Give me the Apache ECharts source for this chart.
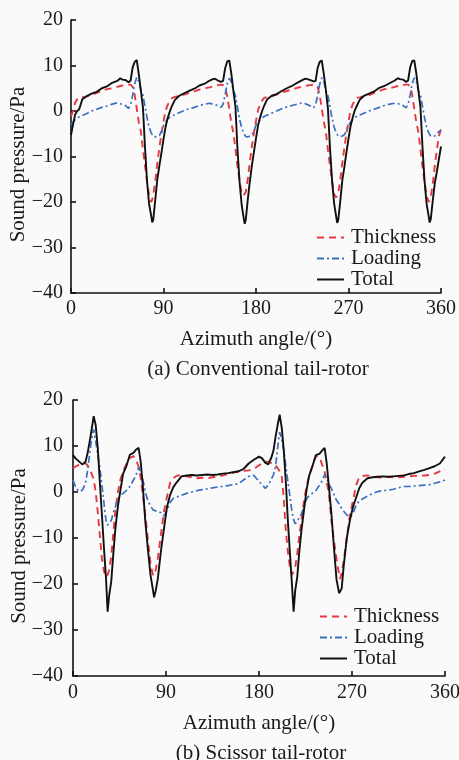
<!DOCTYPE html>
<html>
<head>
<meta charset="utf-8">
<script src="https://cdn.jsdelivr.net/npm/echarts@6/dist/echarts.min.js"></script>
<style>
html,body{margin:0;padding:0;background:#fafafa;}
#chart{width:459px;height:760px;}
</style>
</head>
<body>
<div id="chart"></div>
<script>
// ---------- (a) Conventional tail-rotor ----------
var anglesA = [
 0,2,4,6,8,11,15,20,25,30,35,40,45,48,50,53,56,58,60,62,64,66,68,70,72,74,76,78,79,80,82,84,86,88,
 90,92,94,96,98,101,105,110,115,120,125,130,135,138,140,143,146,148,150,152,154,156,158,160,162,164,166,168,169,170,172,174,176,178,
 180,182,184,186,188,191,195,200,205,210,215,220,225,228,230,233,236,238,240,242,244,246,248,250,252,254,256,258,259,260,262,264,266,268,
 270,272,274,276,278,281,285,290,295,300,305,310,315,318,320,323,326,328,330,332,334,336,338,340,342,344,346,348,349,350,352,354,356,358,
 360];
var thicknessA = [
 -1.2,0,1.8,2.6,3.0,3.0,3.2,3.5,4.0,4.4,4.8,5.0,5.3,5.5,5.6,5.7,5.8,5.8,5.3,3.5,0.5,-2.5,-4.5,-8.5,-12,-15.5,-18.5,-20,-19.5,-18.5,-15.5,-11.5,-8,-5,
 -2.3,0,1.3,2.2,2.8,3.1,3.3,3.6,4.0,4.3,4.7,5.0,5.2,5.4,5.5,5.7,5.8,5.7,5.2,3.3,0.4,-2.6,-4.8,-8.4,-12.2,-15.4,-18,-18.6,-18.5,-17.8,-15,-11.2,-7.8,-4.8,
 -2.2,0.2,1.4,2.3,2.9,3.1,3.3,3.6,4.1,4.4,4.7,5.1,5.3,5.5,5.6,5.7,5.8,5.8,5.3,3.4,0.6,-2.4,-4.6,-8.6,-12,-15.5,-18.3,-19,-18.8,-18,-15.2,-11.4,-8,-5,
 -2.3,0.1,1.4,2.3,2.9,3.0,3.3,3.5,4.0,4.4,4.8,5.0,5.3,5.5,5.6,5.7,5.8,5.8,5.4,3.5,0.5,-2.5,-4.6,-8.5,-12.2,-15.6,-18.6,-20,-19.8,-19,-16,-12,-8.5,-5.5,
 -4.0];
var loadingA = [
 -3.0,-2.4,-1.9,-1.5,-1.3,-1.0,-0.6,0,0.4,0.8,1.1,1.5,1.8,1.6,1.5,1.2,0.6,1.4,3.5,6.0,7.4,6.5,4.5,3.5,1,-1.5,-3.5,-4.8,-5.2,-5.5,-5.7,-5.6,-5.4,-4.5,
 -3.2,-2.5,-1.8,-1.4,-1.1,-0.8,-0.4,0.1,0.5,0.8,1.2,1.5,1.7,1.5,1.4,1.2,0.8,1.5,3.6,6.0,7.2,6.4,4.6,3.3,0.8,-1.8,-3.6,-4.9,-5.3,-5.6,-5.7,-5.5,-5.3,-4.4,
 -3.1,-2.4,-1.9,-1.5,-1.2,-0.9,-0.5,0,0.5,0.9,1.2,1.5,1.8,1.6,1.4,1.1,0.7,1.4,3.4,5.9,7.3,6.5,4.4,3.4,0.9,-1.6,-3.5,-4.8,-5.2,-5.5,-5.6,-5.5,-5.2,-4.4,
 -3.1,-2.5,-1.9,-1.4,-1.2,-0.9,-0.5,0,0.4,0.8,1.2,1.5,1.7,1.6,1.5,1.2,0.7,1.5,3.5,6.0,7.3,6.4,4.5,3.5,1,-1.5,-3.5,-4.8,-5.2,-5.5,-5.6,-5.5,-5,-4.5,
 -4.2];
var totalA = [
 -5.3,-3,-0.8,0,0.4,2.6,3.2,3.8,4.2,5.0,5.4,6.2,6.6,7.2,6.9,6.8,6.3,6.7,9.6,10.8,11.2,8.0,4.5,0.8,-8,-15.5,-20.5,-23,-24.5,-24,-19.5,-15,-12,-9.2,
 -6.2,-3.5,-1.6,-0.2,1.0,2.4,3.3,3.9,4.4,4.9,5.6,6.0,6.7,7.0,7.1,6.7,6.4,6.6,9.4,10.9,11.1,8.2,4.4,1,-8.5,-15.5,-20.5,-23.5,-24.8,-24,-19.5,-15.5,-12,-9,
 -6,-3.2,-1.4,0,1.2,2.6,3.3,3.7,4.4,5.0,5.5,6.2,6.8,7.1,7.0,6.8,6.5,6.6,9.5,10.8,11.1,8.1,4.6,0.5,-8.2,-15.2,-20.3,-23.2,-24.6,-24,-19.8,-15.2,-12.3,-9.1,
 -6.1,-3.3,-1.5,0.1,1.1,2.5,3.3,3.8,4.3,5.1,5.5,6.1,6.7,7.2,7.0,6.9,6.4,6.7,9.6,11,11.1,8.2,4.5,0.8,-8,-15.4,-20.4,-23.1,-24.5,-23.8,-19.7,-15.8,-13.3,-10.5,
 -7.8];

// ---------- (b) Scissor tail-rotor ----------
var anglesB = [
 0,3,6,9,12,14,16,18,20,22,24,26,28,30,32,33.5,35,37,39,41,43.5,46,48.5,51.5,55,58.5,61,63.5,65.5,67.5,70,72.5,75,77.5,78.5,80,82,85,88,91,94,97,100,105,110,115,120,125,130,135,140,145,150,155,160,165,170,175,
 180,183,186,189,192,194,196,198,200,202,204,206,208,210,212,213.5,215,217,219,221,223.5,226,228.5,231.5,235,238.5,241,243.5,245.5,247.5,250,252.5,255,257.5,258.5,260,262,265,268,271,274,277,280,285,290,295,300,305,310,315,320,325,330,335,340,345,350,355,
 360];
var thicknessB = [
 5.2,5.6,5.9,6.1,6.3,5.8,5.0,4.0,2.8,0,-4.5,-9.5,-14.5,-17.2,-18.5,-18,-17,-14,-9,-4,0,2.8,4.5,6.0,7.4,7.8,7.0,5.5,3.0,-0.5,-5,-10.5,-15.5,-18.2,-18,-17,-14.5,-9.3,-4.3,-1,2,3.0,3.5,3.7,3.4,3.2,3.0,3.1,3.0,3.2,3.4,3.6,3.9,4.2,4.4,4.6,4.7,5.0,
 5.8,6.2,6.6,6.6,6.3,5.8,5.8,5.2,4.5,3.5,-1.5,-8.5,-13,-16.5,-18,-18.2,-16.5,-13.4,-9.5,-6.1,-2,1.2,3.5,5.5,7.8,7.6,6.0,4.5,2.0,0,-6.1,-10.5,-14.5,-18.0,-18.9,-17.5,-15,-9.8,-5,-1.8,1.5,3.2,3.5,3.6,3.3,3.2,3.1,3.3,3.2,3.2,3.3,3.4,3.5,3.5,3.6,3.7,4.0,4.5,
 5.0];
var loadingB = [
 2.6,0.8,0.1,0.4,1.8,4.5,8,11.5,13.6,11,8,5.2,1.5,-2.5,-6.3,-7.2,-6.8,-6.2,-4.5,-3.2,-1.5,-0.6,-0.3,0.3,1.2,2.6,3.7,5.4,4.0,2.8,0,-2,-3,-3.9,-4,-4.1,-4.2,-4.5,-5.2,-4,-2.2,-1.4,-1.1,-0.7,-0.3,0,0.3,0.5,0.7,0.9,1.1,1.2,1.4,1.6,1.8,2.6,3.4,3.6,
 2.3,1.6,0.8,1.5,2.8,3.8,5.5,9.5,13,11.5,9,5.5,2.2,-1,-4.5,-6,-6.9,-6.5,-5.5,-4.8,-3.2,-1.5,-0.8,-0.3,0.3,1.5,2.4,3.8,3.0,1.8,0.8,-0.5,-1.8,-2.6,-3,-3.6,-4.2,-5,-5.4,-4.7,-2.8,-2.0,-1.5,-0.9,-0.3,0.1,0.3,0.4,0.6,0.9,1.2,1.2,1.3,1.4,1.5,1.6,1.9,2.2,
 2.6];
var totalB = [
 8.0,7.2,6.6,6.0,6.5,8.3,10.8,13.5,16.5,14.5,9.5,2,-5,-12.3,-19,-26,-22.5,-19.5,-13.5,-8,-3,0.5,4,5.5,8.1,8.5,9.2,9.6,6.6,1.5,-6.5,-12.5,-18,-21.5,-22.9,-21.5,-19,-13,-8,-3.2,-0.6,1.0,2.0,3.4,3.6,3.7,3.6,3.7,3.8,3.7,3.8,4.0,4.1,4.3,4.5,5.0,6.2,7.0,
 7.7,7.3,6.4,6.0,7.5,9.0,12,14.5,16.8,14,9,2,-6.5,-13.5,-20.5,-26,-21.5,-18.5,-13,-8.5,-4,0.4,3.5,5.5,8,8.3,9,9.6,6.3,1.5,-4.5,-12,-19,-22,-22.4,-21,-16,-10,-6.1,-3.2,-1.2,0.8,2.0,3.0,3.2,3.3,3.4,3.3,3.4,3.5,3.6,3.9,4.1,4.5,4.8,5.2,5.6,6.2,
 7.7];

var seriesNames = ['Thickness', 'Loading', 'Total'];
var yTicks = {min: -40, max: 20, interval: 10};
var xTicks = {min: 0, max: 360, interval: 90};
var captions = ['(a) Conventional tail-rotor', '(b) Scissor tail-rotor'];
var xName = 'Azimuth angle/(\u00B0)';
var yName = 'Sound pressure/Pa';

function pairs(xs, ys) { return xs.map(function (x, i) { return [x, ys[i]]; }); }

var FONT = '"Liberation Serif", "Times New Roman", serif';
var TXT = '#1a1a1a';
var styles = [
  {color: '#e8373f', width: 1.9, type: [7, 5]},
  {color: '#3b6fc2', width: 1.7, type: [7, 3, 2, 3]},
  {color: '#111111', width: 1.9, type: 'solid'}
];

function makeX(idx, labelMargin, nameGap) {
  return {
    type: 'value', gridIndex: idx, min: xTicks.min, max: xTicks.max, interval: xTicks.interval,
    name: xName, nameLocation: 'middle', nameGap: nameGap, nameMoveOverlap: false,
    nameTextStyle: {fontFamily: FONT, fontSize: 21, color: TXT},
    axisLine: {show: true, onZero: false, lineStyle: {color: '#111', width: 1.6}},
    axisTick: {show: true, inside: true, length: 5, lineStyle: {color: '#111', width: 1.6}},
    axisLabel: {fontFamily: FONT, fontSize: 20, color: TXT, margin: labelMargin},
    splitLine: {show: false}
  };
}
function makeY(idx, labelMargin, nameGap) {
  return {
    type: 'value', gridIndex: idx, min: yTicks.min, max: yTicks.max, interval: yTicks.interval,
    name: yName, nameLocation: 'middle', nameGap: nameGap, nameMoveOverlap: false,
    nameTextStyle: {fontFamily: FONT, fontSize: 21, color: TXT, padding: [0, 16, 0, 0]},
    axisLine: {show: true, onZero: false, lineStyle: {color: '#111', width: 1.6}},
    axisTick: {show: true, inside: true, length: 5, lineStyle: {color: '#111', width: 1.6}},
    axisLabel: {fontFamily: FONT, fontSize: 20, color: TXT, margin: labelMargin,
      formatter: function (v) { return String(v).replace('-', '\u2212'); }},
    splitLine: {show: false}
  };
}
function makeSeries(name, i, xs, ys, gi) {
  return {
    name: name, type: 'line', xAxisIndex: gi, yAxisIndex: gi,
    data: pairs(xs, ys), symbol: 'none', smooth: false, animation: false,
    lineStyle: {color: styles[i].color, width: styles[i].width, type: styles[i].type},
    itemStyle: {color: styles[i].color},
    z: 2 + i
  };
}
function makeLegend(left, top) {
  return {
    data: seriesNames, orient: 'vertical', left: left, top: top,
    itemWidth: 27, itemHeight: 12, itemGap: 0,
    itemStyle: {color: 'rgba(0,0,0,0)', borderWidth: 0, opacity: 0},
    textStyle: {fontFamily: FONT, fontSize: 21, color: TXT, lineHeight: 20, padding: [0, 0, 0, 2]},
    selectedMode: false
  };
}

var chart = echarts.init(document.getElementById('chart'), null, {renderer: 'canvas'});
chart.setOption({
  backgroundColor: '#fafafa',
  animation: false,
  title: [
    {text: captions[0], left: 253, top: 354, textAlign: 'center',
     textStyle: {fontFamily: FONT, fontSize: 21, fontWeight: 'normal', color: TXT}},
    {text: captions[1], left: 256, top: 738, textAlign: 'center',
     textStyle: {fontFamily: FONT, fontSize: 21, fontWeight: 'normal', color: TXT}}
  ],
  legend: [makeLegend(311, 222), makeLegend(314, 601)],
  grid: [
    {left: 71, right: 18, top: 20, bottom: 467, containLabel: false, outerBoundsMode: 'none'},
    {left: 73, right: 14, top: 400, bottom: 84, containLabel: false, outerBoundsMode: 'none'}
  ],
  xAxis: [makeX(0, 6, 36), makeX(1, 7, 37)],
  yAxis: [makeY(0, 8, 42), makeY(1, 10, 43)],
  series: [
    makeSeries(seriesNames[0], 0, anglesA, thicknessA, 0),
    makeSeries(seriesNames[1], 1, anglesA, loadingA, 0),
    makeSeries(seriesNames[2], 2, anglesA, totalA, 0),
    makeSeries(seriesNames[0], 0, anglesB, thicknessB, 1),
    makeSeries(seriesNames[1], 1, anglesB, loadingB, 1),
    makeSeries(seriesNames[2], 2, anglesB, totalB, 1)
  ]
});
</script>
</body>
</html>
